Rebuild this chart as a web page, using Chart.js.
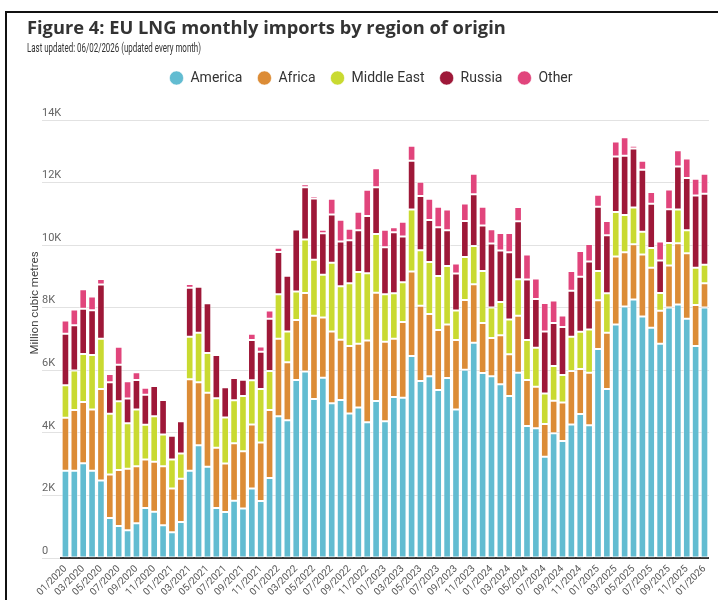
<!doctype html>
<html lang="en">

<head>
    <meta charset="utf-8">
    <title>EU LNG monthly imports by region of origin</title>
    <script src="https://cdn.jsdelivr.net/npm/chart.js@4.4.1/dist/chart.umd.min.js"></script>
    <style>
        body { margin: 0; background: #fff; }
        #wrap { position: relative; width: 718px; height: 600px; overflow: hidden; }
        #frame { position: absolute; left: 5px; top: 11px; width: 730px; height: 600px;
                 border-left: 2px solid #111; border-top: 2px solid #111; }
        h1 { position: absolute; left: 27px; top: 14px; margin: 0; white-space: nowrap;
             font: 700 18.3px "Open Sans", sans-serif; color: #333; }
        .sub { position: absolute; left: 27px; top: 40px; white-space: nowrap; transform-origin: 0 50%;
               font: 13px Roboto, sans-serif; color: #333; }
        canvas { position: absolute; left: 0; top: 0; }
    </style>
</head>

<body>
    <div id="wrap">
        <div id="frame"></div>
        <canvas id="myChart" width="718" height="600"></canvas>
        <h1>Figure 4: EU LNG monthly imports by region of origin</h1>
        <div class="sub" id="sub">Last updated: 06/02/2026 (updated every month)</div>
    </div>

    <script>
        // months 01/2020 .. 01/2026
        const months = [];
        for (let y = 2020; y <= 2026; y++) {
            for (let m = 1; m <= 12; m++) {
                if (y === 2026 && m > 1) break;
                months.push((m < 10 ? '0' + m : m) + '/' + y);
            }
        }

        // million cubic metres
        const america = [2790, 2790, 3030, 2790, 2480, 1280, 1020, 890, 1110, 1600, 1480, 1050, 820,
            1150, 2790, 3600, 2920, 1600, 1470, 1830, 1580, 2220, 1820, 2560,
            4530, 4400, 5690, 5960, 5080, 5760, 4950, 5050, 4620, 4810, 4340, 5020,
            4370, 5150, 5120, 6460, 5660, 5810, 5370, 5750, 4750, 6020, 6880, 5910,
            5810, 5550, 5180, 5920, 4220, 4150, 3240, 3990, 3740, 4270, 4600, 4240,
            6680, 5400, 7460, 8040, 8260, 7720, 7360, 6850, 8010, 8100, 7650, 6780, 8010];
        const africa = [1690, 1940, 1960, 1960, 2920, 1390, 1790, 1960, 1820, 1550, 1600, 1880, 1400,
            1380, 2920, 2020, 2360, 1920, 1550, 1840, 1830, 2050, 1870, 2170,
            2480, 1860, 1920, 2510, 2660, 1930, 2290, 1930, 2160, 2040, 2610, 3460,
            2540, 1860, 2420, 2700, 2400, 1990, 1920, 1710, 2220, 2230, 1870, 1600,
            1220, 1570, 1330, 1820, 1470, 1320, 1040, 1040, 1230, 1710, 1440, 1680,
            1560, 1800, 2180, 1730, 1770, 1980, 1920, 1050, 1340, 1960, 2090, 1310, 770];
        const middleEast = [1040, 1260, 1530, 1740, 1610, 1940, 2200, 1460, 1820, 1110, 1450, 1020, 930,
            810, 1360, 1580, 1270, 1590, 1470, 1370, 1770, 1410, 1710, 1250,
            1420, 980, 910, 1710, 1790, 1360, 2200, 1710, 2000, 2290, 2150, 1880,
            1520, 1450, 1270, 1980, 1780, 1660, 1720, 1870, 940, 1370, 1220, 1660,
            980, 1060, 1110, 1170, 1280, 1250, 980, 1110, 880, 1090, 1190, 1380,
            930, 1260, 1420, 1190, 1170, 730, 630, 570, 720, 1080, 740, 1190, 590];
        const russia = [1650, 1450, 1450, 1430, 1730, 1010, 1170, 790, 940, 960, 970, 1100, 760,
            1030, 1570, 1470, 1590, 1380, 970, 710, 520, 1290, 1190, 1670,
            1350, 1780, 1980, 1670, 1960, 1330, 1540, 1430, 1380, 1340, 1830, 1490,
            1500, 1950, 1470, 1560, 1730, 1340, 1560, 1150, 1180, 1150, 1660, 1460,
            2040, 1650, 2150, 1850, 1930, 1560, 1980, 1370, 1530, 1470, 1760, 2180,
            2060, 1860, 1770, 1900, 1890, 1980, 1410, 1040, 1080, 1370, 1670, 2310, 2270];
        const other = [420, 500, 620, 440, 180, 260, 570, 550, 250, 220, 20, 30, 20,
            50, 120, 0, 0, 0, 0, 30, 0, 200, 170, 260,
            140, 0, 0, 100, 80, 110, 500, 690, 360, 590, 840, 610,
            560, 160, 470, 480, 460, 680, 660, 660, 320, 560, 650, 600,
            460, 560, 620, 460, 800, 650, 910, 720, 370, 630, 820, 560,
            380, 450, 480, 590, 90, 290, 380, 610, 630, 520, 620, 530, 640];

        const seriesNames = ['America', 'Africa', 'Middle East', 'Russia', 'Other'];
        const seriesColors = ['#62bcd1', '#dc8c36', '#c9da31', '#9e1838', '#e1457c'];
        const seriesData = [america, africa, middleEast, russia, other];

        const font = 'Roboto, sans-serif';

        // squeeze the subtitle to the condensed width of the original
        const sub = document.getElementById('sub');
        sub.style.transform = 'scaleX(' + (174 / sub.getBoundingClientRect().width) + ')';

        // push the plot down below the legend
        const legendGap = {
            id: 'legendGap',
            beforeInit(chart) {
                const fit = chart.legend.fit;
                chart.legend.fit = function () {
                    fit.bind(chart.legend)();
                    this.height += 25;
                };
            }
        };

        // y tick labels sit left-aligned at x=42
        const shiftY = {
            id: 'shiftY',
            afterLayout(chart) {
                chart.scales.y.left = 42;
            }
        };

        // rotated axis title
        const yTitle = {
            id: 'yTitle',
            afterDraw(chart) {
                const c = chart.ctx;
                c.save();
                c.translate(35, 303);
                c.rotate(-Math.PI / 2);
                c.font = '11.5px ' + font;
                c.fillStyle = '#444';
                c.textAlign = 'center';
                c.textBaseline = 'middle';
                c.fillText('Million cubic metres', 0, 0);
                c.restore();
            }
        };

        const datasets = seriesNames.map(function (name, i) {
            return {
                label: name,
                data: seriesData[i],
                backgroundColor: seriesColors[i],
                borderColor: 'rgba(255,255,255,0.55)',
                borderWidth: 1,
                borderSkipped: false,
                categoryPercentage: 0.86,
                barPercentage: 1
            };
        });

        new Chart(document.getElementById('myChart'), {
            type: 'bar',
            data: { labels: months, datasets: datasets },
            plugins: [legendGap, shiftY, yTitle],
            options: {
                responsive: false,
                animation: false,
                layout: { padding: { top: 56, left: 25, right: 1, bottom: 0 } },
                plugins: {
                    legend: {
                        position: 'top',
                        labels: {
                            usePointStyle: true,
                            pointStyle: 'circle',
                            boxWidth: 14,
                            boxHeight: 10,
                            padding: 15,
                            color: '#333',
                            font: { family: font, size: 14 }
                        }
                    },
                    tooltip: { enabled: false }
                },
                scales: {
                    x: {
                        stacked: true,
                        afterFit: function (s) { s.height = 42; },
                        grid: { display: false, drawTicks: false },
                        border: { color: '#333', width: 2 },
                        ticks: {
                            autoSkip: false,
                            minRotation: 45,
                            maxRotation: 45,
                            padding: 5,
                            color: '#555',
                            font: { family: font, size: 10 },
                            callback: function (v, i) { return i % 2 === 0 ? months[i] : ''; }
                        }
                    },
                    y: {
                        stacked: true,
                        min: 0,
                        max: 14000,
                        afterFit: function (s) { s.width = 36; },
                        grid: { color: '#e2e2e2', tickLength: 19 },
                        border: { display: false },
                        ticks: {
                            stepSize: 2000,
                            crossAlign: 'far',
                            padding: 0,
                            labelOffset: -7,
                            color: '#666',
                            font: { family: font, size: 11 },
                            callback: function (v) { return v === 0 ? '0' : (v / 1000) + 'K'; }
                        }
                    }
                }
            }
        });
    </script>
</body>

</html>
